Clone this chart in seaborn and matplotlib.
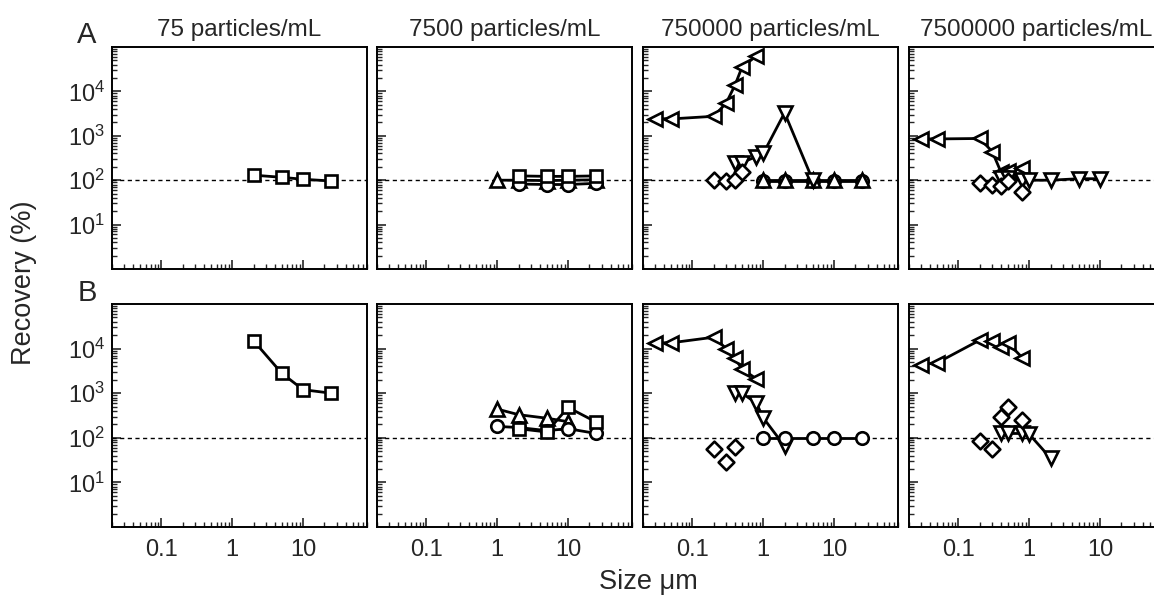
import numpy as np
import pandas as pd
import matplotlib
matplotlib.use("Agg")
import matplotlib.pyplot as plt
import seaborn as sns
from matplotlib.ticker import FixedLocator, FixedFormatter, LogLocator, NullFormatter

sns.set_style("ticks")
plt.rcParams["font.family"] = ["Liberation Sans", "DejaVu Sans"]
plt.rcParams["mathtext.fontset"] = "custom"
plt.rcParams["mathtext.rm"] = "Liberation Sans"
plt.rcParams["mathtext.it"] = "Liberation Sans:italic"

# ---------------- data ----------------
titles = ["75 particles/mL", "7500 particles/mL", "750000 particles/mL", "7500000 particles/mL"]
row_labels = ["A", "B"]
xtick_vals = [0.1, 1, 10]
xtick_labels = ["0.1", "1", "10"]
ytick_vals = [10, 100, 1000, 10000]
ytick_labels = ["$10^1$", "$10^2$", "$10^3$", "$10^4$"]

size_sq = [2, 5, 10, 25]
size_circ = [1, 2, 5, 10, 25]
size_up = [1, 2, 5, 10, 25]
size_left = [0.03, 0.05, 0.2, 0.3, 0.4, 0.5, 0.8]

# Row A
a1_sq = [130, 116, 105, 96]

a2_up = [100, 100, 98, 100, 102]
a2_sq = [125, 122, 122, 125]
a2_circ_x = [2, 5, 10, 25]
a2_circ = [82, 80, 80, 85]

a3_left = [2450, 2400, 2750, 5500, 14000, 35000, 63000]
a3_down_x = [0.4, 0.5, 0.8, 1, 2, 5]
a3_down = [240, 250, 340, 400, 3300, 100]
a3_diam_x = [0.2, 0.3, 0.4, 0.5]
a3_diam = [100, 98, 100, 150]
a3_up = [100, 100, 100, 100, 100]
a3_circ = [95, 95, 95, 95, 95]

a4_left = [850, 850, 870, 440, 150, 165, 185]
a4_down_x = [0.4, 0.5, 0.8, 1, 2, 5, 10]
a4_down = [110, 115, 100, 100, 100, 108, 108]
a4_diam_x = [0.2, 0.3, 0.4, 0.5, 0.8]
a4_diam = [85, 80, 75, 95, 55]

# Row B
b1_sq = [15000, 2800, 1200, 1000]

b2_up_x = [1, 2, 5, 10]
b2_up = [440, 330, 275, 230]
b2_sq = [160, 135, 480, 225]
b2_circ = [180, 170, 145, 160, 125]

b3_left = [13500, 13500, 18000, 10000, 6000, 3500, 2100]
b3_down_x = [0.4, 0.5, 0.8, 1, 2]
b3_down = [1000, 1000, 600, 280, 65]
b3_diam_x = [0.2, 0.3, 0.4]
b3_diam = [56, 28, 62]
b3_circ = [100, 100, 100, 100, 100]

b4_left = [4400, 4800, 15500, 14500, 11000, 13500, 6200]
b4_diam_x = [0.2, 0.3, 0.4, 0.5, 0.8]
b4_diam = [85, 55, 290, 490, 255]
b4_down_x = [0.4, 0.5, 0.8, 1, 2]
b4_down = [125, 125, 125, 120, 35]

# marker styles
MS = {"s": 8, "o": 9, "^": 10.5, "v": 10.5, "<": 10.5, "D": 8}
MEW = 1.9


def draw(ax, x, y, marker, line=True):
    df = pd.DataFrame({"x": x, "y": y})
    if line:
        sns.lineplot(data=df, x="x", y="y", ax=ax, color="black", lw=2.0,
                     marker=marker, markersize=MS[marker], markerfacecolor="white",
                     markeredgecolor="black", markeredgewidth=MEW,
                     estimator=None, sort=True, zorder=3)
    else:
        sns.scatterplot(data=df, x="x", y="y", ax=ax, marker=marker,
                        s=MS[marker] ** 2, facecolor="white", edgecolor="black",
                        linewidth=MEW, zorder=4)


W, H = 1154, 596
fig = plt.figure(figsize=(W / 100, H / 100), dpi=100)
lefts = [112, 377, 643, 909]
pw = 255
rows = [(47, 269), (304, 527)]

axes = []
for r, (top, bot) in enumerate(rows):
    rr = []
    for c, l in enumerate(lefts):
        ax = fig.add_axes([l / W, 1 - bot / H, pw / W, (bot - top) / H])
        ax.set_xscale("log")
        ax.set_yscale("log")
        rr.append(ax)
    axes.append(rr)

# Row A
draw(axes[0][0], size_sq, a1_sq, "s")

draw(axes[0][1], size_up, a2_up, "^")
draw(axes[0][1], a2_circ_x, a2_circ, "o")
draw(axes[0][1], size_sq, a2_sq, "s")

draw(axes[0][2], size_left, a3_left, "<")
draw(axes[0][2], a3_diam_x, a3_diam, "D", line=False)
draw(axes[0][2], size_circ, a3_circ, "o")
draw(axes[0][2], size_up, a3_up, "^")
draw(axes[0][2], a3_down_x, a3_down, "v")

draw(axes[0][3], size_left, a4_left, "<")
draw(axes[0][3], a4_diam_x, a4_diam, "D", line=False)
draw(axes[0][3], a4_down_x, a4_down, "v")

# Row B
draw(axes[1][0], size_sq, b1_sq, "s")

draw(axes[1][1], b2_up_x, b2_up, "^")
draw(axes[1][1], size_circ, b2_circ, "o")
draw(axes[1][1], size_sq, b2_sq, "s")

draw(axes[1][2], size_left, b3_left, "<")
draw(axes[1][2], b3_down_x, b3_down, "v")
draw(axes[1][2], b3_diam_x, b3_diam, "D", line=False)
draw(axes[1][2], size_circ, b3_circ, "o")

draw(axes[1][3], size_left, b4_left, "<")
draw(axes[1][3], b4_diam_x, b4_diam, "D", line=False)
draw(axes[1][3], b4_down_x, b4_down, "v")

for r in range(2):
    for c in range(4):
        ax = axes[r][c]
        ax.axhline(100, color="black", lw=1.0, ls=(0, (3.0, 2.5)), zorder=1)
        ax.set_xlim(0.02, 80)
        ax.set_ylim(1, 1e5)
        ax.xaxis.set_major_locator(FixedLocator(xtick_vals))
        ax.xaxis.set_minor_locator(LogLocator(base=10, subs=np.arange(2, 10), numticks=20))
        ax.xaxis.set_minor_formatter(NullFormatter())
        ax.yaxis.set_major_locator(FixedLocator(ytick_vals))
        ax.yaxis.set_minor_locator(LogLocator(base=10, subs=np.arange(2, 10), numticks=20))
        ax.yaxis.set_minor_formatter(NullFormatter())
        if r == 1:
            ax.xaxis.set_major_formatter(FixedFormatter(xtick_labels))
        else:
            ax.xaxis.set_major_formatter(NullFormatter())
        if c == 0:
            ax.yaxis.set_major_formatter(FixedFormatter(ytick_labels))
        else:
            ax.yaxis.set_major_formatter(NullFormatter())
        ax.tick_params(which="major", direction="in", length=6.5, width=1.2,
                       labelsize=17, top=False, right=False)
        ax.tick_params(axis="x", which="major", pad=9)
        ax.tick_params(axis="y", which="major", pad=5)
        ax.tick_params(which="minor", direction="in", length=3.5, width=1.0,
                       top=False, right=False)
        for sp in ax.spines.values():
            sp.set_linewidth(1.4)
            sp.set_color("black")
        ax.set_xlabel("")
        ax.set_ylabel("")
        if r == 0:
            ax.set_title(titles[c], fontsize=17.5, pad=8)

fig.text(87 / W, 1 - 43 / H, row_labels[0], fontsize=21, ha="center", va="baseline")
fig.text(87 / W, 1 - 301 / H, row_labels[1], fontsize=21, ha="center", va="baseline")
fig.text(24 / W, 1 - 283 / H, "Recovery (%)", rotation=90, ha="center", va="center", fontsize=19.5)
fig.text(648 / W, 1 - 582 / H, "Size \u03bcm", ha="center", va="center", fontsize=19.5)

fig.savefig("out.png", dpi=100, facecolor="white")
